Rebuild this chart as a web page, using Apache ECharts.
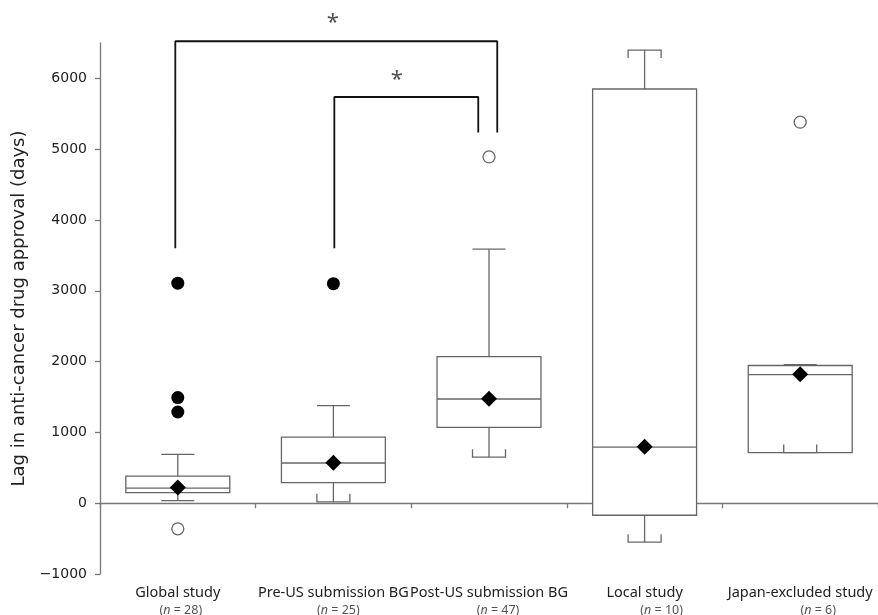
<!DOCTYPE html>
<html>
<head>
<meta charset="utf-8">
<script src="https://cdn.jsdelivr.net/npm/echarts@6/dist/echarts.min.js"></script>
<style>
  html, body { margin: 0; padding: 0; background: #fff; }
  #chart { width: 878px; height: 615px; }
</style>
</head>
<body>
<div id="chart"></div>
<script>
// groups along the x axis and their sizes
var groups = ['Global study', 'Pre-US submission BG', 'Post-US submission BG', 'Local study', 'Japan-excluded study'];
var counts = [28, 25, 47, 10, 6];

// box summary per group (days)
var whiskerLow = [35, 20, 650, -550, 715];
var q1 = [148, 290, 1070, -170, 715];
var median = [212, 568, 1472, 792, 1815];
var q3 = [382, 933, 2070, 5850, 1945];
var whiskerHigh = [690, 1378, 3588, 6400, 1958];
var means = [222, 570, 1475, 798, 1822];

// outliers: [group index, days]
var outFilled = [[0, 3108], [0, 1492], [0, 1288], [1, 3100]];
var outOpen = [[0, -362], [2, 4892], [4, 5382]];

// significance brackets, x in group units (0..5), y in days
var bracketOuter = [[0.484, 3600], [0.484, 6525], [2.553, 6525], [2.553, 5236]];
var bracketInner = [[1.506, 3600], [1.506, 5737], [2.431, 5737], [2.431, 5236]];
var stars = [[1.497, 6780], [1.907, 5980]];

var yTicks = [-1000, 0, 1000, 2000, 3000, 4000, 5000, 6000];

// which whisker caps get the little serifs: [top, bottom]
var capSerif = [[0, 0], [0, 1], [0, 1], [1, 1], [0, 1]];

var boxColor = '#666';
var font = 'Noto Sans';
var yFont = 'DejaVu Sans';

function st() {
    return { stroke: boxColor, lineWidth: 1.3, fill: null };
}

function renderBox(params, api) {
    var i = api.value(0);
    var x = api.coord([i, 0])[0];
    var band = api.size([1, 0])[0];
    var hw = band * 0.334;
    var cw = band * 0.106;
    var sh = 8;
    var yOf = function (d) { return api.coord([i, api.value(d)])[1]; };
    var lo = yOf(1), b1 = yOf(2), md = yOf(3), b3 = yOf(4), hi = yOf(5);
    var kids = [
        { type: 'rect', shape: { x: x - hw, y: b3, width: 2 * hw, height: b1 - b3 }, style: { stroke: boxColor, lineWidth: 1.3, fill: '#fff' } },
        { type: 'line', shape: { x1: x - hw, y1: md, x2: x + hw, y2: md }, style: st() },
        { type: 'line', shape: { x1: x, y1: b3, x2: x, y2: hi }, style: st() },
        { type: 'line', shape: { x1: x, y1: b1, x2: x, y2: lo }, style: st() }
    ];
    if (capSerif[i][0]) {
        kids.push({ type: 'polyline', shape: { points: [[x - cw, hi + sh], [x - cw, hi], [x + cw, hi], [x + cw, hi + sh]] }, style: st() });
    } else {
        kids.push({ type: 'line', shape: { x1: x - cw, y1: hi, x2: x + cw, y2: hi }, style: st() });
    }
    if (capSerif[i][1]) {
        kids.push({ type: 'polyline', shape: { points: [[x - cw, lo - sh], [x - cw, lo], [x + cw, lo], [x + cw, lo - sh]] }, style: st() });
    } else {
        kids.push({ type: 'line', shape: { x1: x - cw, y1: lo, x2: x + cw, y2: lo }, style: st() });
    }
    return { type: 'group', children: kids };
}

var boxData = groups.map(function (g, i) {
    return [i, whiskerLow[i], q1[i], median[i], q3[i], whiskerHigh[i]];
});
var meanData = means.map(function (m, i) { return [i, m]; });

// the "(n = ..)" lines sit a little right of centre in the original
var nPad = [6, 10, 18, 34, 36];
var labelRich = {
    t: { fontSize: 14.5, color: '#222', lineHeight: 18, fontFamily: font },
    p: { fontSize: 12.5, color: '#555', lineHeight: 16, fontFamily: font },
    n: { fontSize: 12.5, color: '#555', lineHeight: 16, fontFamily: font, fontStyle: 'italic' }
};
nPad.forEach(function (w, i) { labelRich['g' + i] = { width: w, lineHeight: 16, fontSize: 12.5 }; });

var chart = echarts.init(document.getElementById('chart'));
chart.setOption({
    animation: false,
    backgroundColor: '#fff',
    textStyle: { fontFamily: font },
    grid: { left: 100, right: 0, top: 43, bottom: 41, containLabel: false, outerBoundsMode: 'none' },
    xAxis: [{
        type: 'category',
        data: groups,
        boundaryGap: true,
        axisLine: { lineStyle: { color: '#777', width: 1.3 } },
        axisTick: { show: true, length: 5, lineStyle: { color: '#777', width: 1.3 } },
        axisLabel: {
            interval: 0,
            margin: 10,
            formatter: function (v, i) {
                return '{t|' + v + '}\n{g' + i + '| }{p|(}{n|n}{p| = ' + counts[i] + ')}';
            },
            rich: labelRich
        },
        splitLine: { show: false }
    }, {
        type: 'value', min: 0, max: 5, show: false
    }],
    yAxis: {
        type: 'value',
        min: -1000,
        max: 6500,
        interval: 500,
        name: 'Lag in anti-cancer drug approval (days)',
        nameLocation: 'middle',
        nameGap: 66,
        nameTextStyle: { fontSize: 18, color: '#222', fontFamily: yFont },
        axisLine: { show: true, lineStyle: { color: '#777', width: 1.3 } },
        axisTick: { show: true, length: 5, customValues: yTicks, lineStyle: { color: '#777', width: 1.3 } },
        axisLabel: {
            customValues: yTicks,
            margin: 13,
            fontSize: 14,
            fontFamily: yFont,
            color: '#222',
            formatter: function (v) { return String(v).replace('-', '\u2212'); }
        },
        splitLine: { show: false }
    },
    series: [{
        type: 'custom',
        renderItem: renderBox,
        data: boxData,
        encode: { x: 0, y: [1, 2, 3, 4, 5] },
        z: 2
    }, {
        type: 'scatter',
        data: outFilled,
        symbol: 'circle',
        symbolSize: 13,
        itemStyle: { color: '#000', opacity: 1 },
        z: 3
    }, {
        type: 'scatter',
        data: outOpen,
        symbol: 'circle',
        symbolSize: 12,
        itemStyle: { color: '#fff', borderColor: '#666', borderWidth: 1.3, opacity: 1 },
        z: 3
    }, {
        type: 'scatter',
        data: meanData,
        symbol: 'diamond',
        symbolSize: 16,
        itemStyle: { color: '#000', opacity: 1 },
        z: 4
    }, {
        type: 'line',
        xAxisIndex: 1,
        data: bracketOuter,
        symbol: 'none',
        clip: false,
        lineStyle: { color: '#111', width: 1.8 },
        z: 5
    }, {
        type: 'line',
        xAxisIndex: 1,
        data: bracketInner,
        symbol: 'none',
        clip: false,
        lineStyle: { color: '#111', width: 1.8 },
        z: 5
    }, {
        type: 'scatter',
        xAxisIndex: 1,
        data: stars,
        symbolSize: 0,
        clip: false,
        label: { show: true, position: 'inside', formatter: '*', fontSize: 22, color: '#222', fontFamily: font },
        z: 5
    }]
});
</script>
</body>
</html>
